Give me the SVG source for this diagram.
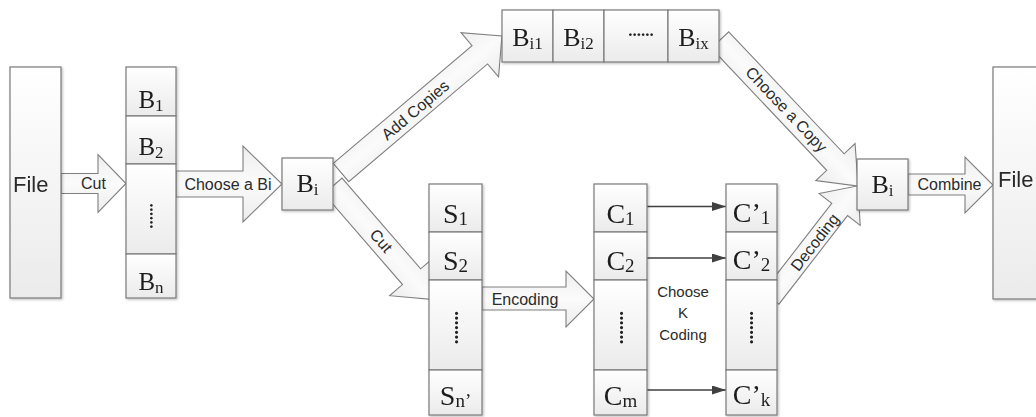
<svg xmlns="http://www.w3.org/2000/svg" width="1036" height="417" viewBox="0 0 1036 417">
<defs>
<linearGradient id="gBox" x1="0" y1="0" x2="0" y2="1"><stop offset="0" stop-color="#ffffff"/><stop offset="1" stop-color="#ebebeb"/></linearGradient>
<linearGradient id="gArr" x1="0" y1="0" x2="0" y2="1"><stop offset="0" stop-color="#eeeeee"/><stop offset="0.5" stop-color="#fbfbfb"/><stop offset="1" stop-color="#ececec"/></linearGradient>
<filter id="sh" x="-10%" y="-10%" width="130%" height="130%"><feDropShadow dx="1.2" dy="1.2" stdDeviation="1" flood-color="#000" flood-opacity="0.25"/></filter>
<marker id="ah" viewBox="0 0 14 9" markerWidth="14" markerHeight="9" refX="14" refY="4.5" orient="auto" markerUnits="userSpaceOnUse"><path d="M0,0 L14,4.5 L0,9 Z" fill="#404040"/></marker>
</defs>
<style>
.box{fill:url(#gBox);stroke:#7a7a7a;stroke-width:1.2}
.arr{fill:url(#gArr);stroke:#7f7f7f;stroke-width:1.1}
.lbl{font-family:"Liberation Sans",Arial,sans-serif;font-size:16px;fill:#2b2b2b;text-anchor:middle}
.file{font-family:"Liberation Sans",Arial,sans-serif;font-size:22px;fill:#2b2b2b}
.ser{font-family:"Liberation Serif","Times New Roman",serif;fill:#1f1f1f;text-anchor:middle}
.dots{font-family:"Liberation Serif","Times New Roman",serif;font-weight:bold;fill:#222;text-anchor:middle}
.thin{stroke:#404040;stroke-width:1.3;marker-end:url(#ah);fill:none}
</style>
<rect width="1036" height="417" fill="#ffffff"/>

<g id="connectors">
  <g id="c-cut1">
    <path class="arr" d="M61,173.5 H98 V154.5 L126,183.5 L98,212.5 V193.5 H61 Z"/>
    <text class="lbl" x="93.5" y="189">Cut</text>
  </g>
  <g id="c-chooseBi">
    <path class="arr" d="M176,171 H243 V146 L282,184 L243,222 V197 H176 Z"/>
    <text class="lbl" x="228" y="189.5">Choose a Bi</text>
  </g>
  <g id="c-addcopies" transform="translate(341,172.5) rotate(-40.3)">
    <path class="arr" d="M0,-12 H182 V-29 L211,0 L182,29 V12 H0 Z"/>
    <text class="lbl" x="97" y="6">Add Copies</text>
  </g>
  <g id="c-cut2" transform="translate(333,186) rotate(49.1)">
    <path class="arr" d="M0,-12 H120 V-29 L150,0 L120,29 V12 H0 Z"/>
    <text class="lbl" x="73" y="5">Cut</text>
  </g>
  <g id="c-encoding">
    <path class="arr" d="M482,287 H566 V271 L594,299 L566,327 V310 H482 Z"/>
    <text class="lbl" x="525" y="305">Encoding</text>
  </g>
  <g id="c-choosecopy" transform="translate(720,40) rotate(46.6)">
    <path class="arr" d="M0,-12 H168 V-27 L201,0 L168,27 V12 H0 Z"/>
    <text class="lbl" x="96" y="5">Choose a Copy</text>
  </g>
  <g id="c-decoding" transform="translate(771,298) rotate(-52.2)">
    <path class="arr" d="M0,-10 H112 V-26 L142,0 L112,26 V10 H0 Z"/>
    <text class="lbl" x="71" y="6">Decoding</text>
  </g>
  <g id="c-combine">
    <path class="arr" d="M908,174 H965 V157 L993,185 L965,213 V195 H908 Z"/>
    <text class="lbl" x="949.5" y="190">Combine</text>
  </g>
  <g id="c-k">
    <line class="thin" x1="647" y1="206.5" x2="726" y2="206.5"/>
    <line class="thin" x1="647" y1="258" x2="726" y2="258"/>
    <line class="thin" x1="647" y1="390" x2="726" y2="390"/>
    <text class="lbl" style="font-size:15px" x="683" y="297">Choose</text>
    <text class="lbl" style="font-size:15px" x="683" y="318">K</text>
    <text class="lbl" style="font-size:15px" x="683" y="340">Coding</text>
  </g>
</g>

<g id="file-left" filter="url(#sh)">
  <rect class="box" x="10" y="67" width="51" height="231"/>
  <text class="file" x="13" y="192">File</text>
</g>

<g id="blocks" filter="url(#sh)">
  <rect class="box" x="126" y="67" width="50" height="49"/>
  <rect class="box" x="126" y="116" width="50" height="48"/>
  <rect class="box" x="126" y="164" width="50" height="90"/>
  <rect class="box" x="126" y="254" width="50" height="44"/>
  <text class="ser" x="151" y="108" font-size="25">B<tspan font-size="17" dy="3">1</tspan></text>
  <text class="ser" x="151" y="155" font-size="25">B<tspan font-size="17" dy="3">2</tspan></text>
  <text class="dots" font-size="17" transform="translate(150,216) rotate(90)">......</text>
  <text class="ser" x="151" y="290" font-size="25">B<tspan font-size="17" dy="3">n</tspan></text>
</g>

<g id="bi-left" filter="url(#sh)">
  <rect class="box" x="282" y="158" width="51" height="52"/>
  <text class="ser" x="307.5" y="192" font-size="26">B<tspan font-size="17" dy="3">i</tspan></text>
</g>

<g id="copies" filter="url(#sh)">
  <rect class="box" x="502" y="10" width="51" height="52"/>
  <rect class="box" x="553" y="10" width="51" height="52"/>
  <rect class="box" x="604" y="10" width="64" height="52"/>
  <rect class="box" x="668" y="10" width="51" height="52"/>
  <text class="ser" x="527.5" y="46" font-size="26">B<tspan font-size="17" dy="3">i1</tspan></text>
  <text class="ser" x="578.5" y="46" font-size="26">B<tspan font-size="17" dy="3">i2</tspan></text>
  <text class="dots" x="641" y="36" font-size="17">......</text>
  <text class="ser" x="693.5" y="46" font-size="26">B<tspan font-size="17" dy="3">ix</tspan></text>
</g>

<g id="slices" filter="url(#sh)">
  <rect class="box" x="429" y="184" width="53" height="48"/>
  <rect class="box" x="429" y="232" width="53" height="48"/>
  <rect class="box" x="429" y="280" width="53" height="90"/>
  <rect class="box" x="429" y="370" width="53" height="45"/>
  <text class="ser" x="455.5" y="223" font-size="28">S<tspan font-size="19" dy="2">1</tspan></text>
  <text class="ser" x="455.5" y="270" font-size="28">S<tspan font-size="19" dy="2">2</tspan></text>
  <text class="dots" font-size="19" transform="translate(455,327.5) rotate(90)">.......</text>
  <text class="ser" x="455.5" y="405" font-size="28">S<tspan font-size="19" dy="2">n’</tspan></text>
</g>

<g id="codes" filter="url(#sh)">
  <rect class="box" x="594" y="184" width="53" height="48"/>
  <rect class="box" x="594" y="232" width="53" height="48"/>
  <rect class="box" x="594" y="280" width="53" height="90"/>
  <rect class="box" x="594" y="370" width="53" height="45"/>
  <text class="ser" x="620.5" y="223" font-size="28">C<tspan font-size="19" dy="2">1</tspan></text>
  <text class="ser" x="620.5" y="270" font-size="28">C<tspan font-size="19" dy="2">2</tspan></text>
  <text class="dots" font-size="19" transform="translate(620,327.5) rotate(90)">.......</text>
  <text class="ser" x="620.5" y="405" font-size="28">C<tspan font-size="19" dy="2">m</tspan></text>
</g>

<g id="chosen" filter="url(#sh)">
  <rect class="box" x="726" y="184" width="51" height="48"/>
  <rect class="box" x="726" y="232" width="51" height="48"/>
  <rect class="box" x="726" y="280" width="51" height="90"/>
  <rect class="box" x="726" y="370" width="51" height="45"/>
  <text class="ser" x="751.5" y="222" font-size="28">C’<tspan font-size="19" dy="2">1</tspan></text>
  <text class="ser" x="751.5" y="269" font-size="28">C’<tspan font-size="19" dy="2">2</tspan></text>
  <text class="dots" font-size="19" transform="translate(750,327.5) rotate(90)">.......</text>
  <text class="ser" x="751.5" y="404" font-size="28">C’<tspan font-size="19" dy="2">k</tspan></text>
</g>

<g id="bi-right" filter="url(#sh)">
  <rect class="box" x="857" y="159" width="51" height="51"/>
  <text class="ser" x="882.5" y="193" font-size="26">B<tspan font-size="17" dy="3">i</tspan></text>
</g>

<g id="file-right" filter="url(#sh)">
  <rect class="box" x="993" y="67" width="60" height="232"/>
  <text class="file" x="998" y="187">File</text>
</g>
</svg>
